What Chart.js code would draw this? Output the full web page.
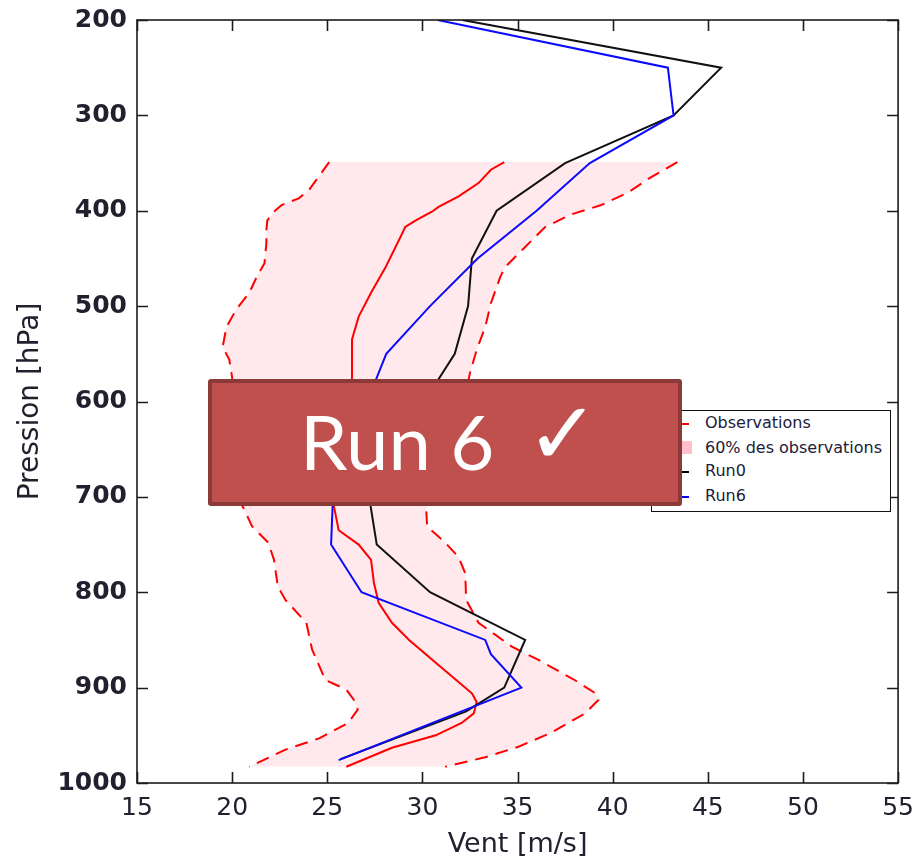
<!DOCTYPE html>
<html>
<head>
<meta charset="utf-8">
<script src="https://cdn.jsdelivr.net/npm/chart.js@4.4.0/dist/chart.umd.min.js"></script>
<style>
  html, body { margin: 0; padding: 0; background: #fff; }
  #wrap { position: relative; width: 924px; height: 866px; overflow: hidden; }
  #c { position: absolute; left: 0; top: 0; }
  #legend { position: absolute; left: 651px; top: 410px; width: 240px; height: 102px; box-sizing: border-box;
            border: 1.5px solid #111; background: #fff; font-family: "DejaVu Sans", sans-serif; font-size: 16px; color: #20203a; }
  .li { position: absolute; left: 53px; line-height: 20px; white-space: nowrap; }
  .mk { position: absolute; left: 8px; width: 29px; height: 2px; }
  #badge { position: absolute; left: 208px; top: 379px; width: 474px; height: 127px; box-sizing: border-box;
           background: #C0504D; border: 4px solid #8C3A38; border-radius: 3px; }
  #badgeText { position: absolute; left: 88px; top: 20px; font-family: Lato, "Open Sans", sans-serif; font-size: 76px;
               line-height: 76px; color: #fff; white-space: nowrap; }
  #badgeCheck { position: absolute; left: 314px; top: 7px; font-family: "DejaVu Sans", sans-serif; font-size: 88px;
                line-height: 88px; color: #fff; }
</style>
</head>
<body>
<div id="wrap">
  <canvas id="c" width="924" height="866"></canvas>
  <div id="legend">
    <div class="mk" style="top:12px;background:#ff0000;"></div>
    <div class="li" style="top:2px;">Observations</div>
    <div class="mk" style="top:30px;height:13px;width:32px;background:#ffc0cb;"></div>
    <div class="li" style="top:27px;">60% des observations</div>
    <div class="mk" style="top:60px;background:#000;"></div>
    <div class="li" style="top:50px;">Run0</div>
    <div class="mk" style="top:85px;background:#0000ff;"></div>
    <div class="li" style="top:75px;">Run6</div>
  </div>
  <div id="badge">
    <span id="badgeText">Run 6</span>
    <span id="badgeCheck">✓</span>
  </div>
</div>
<script>
// ---- Data (wind speed in m/s vs pressure in hPa) ----
const xTicks = [15, 20, 25, 30, 35, 40, 45, 50, 55];
const yTicks = [200, 300, 400, 500, 600, 700, 800, 900, 1000];

const run0Pressure = [200, 250, 300, 350, 400, 450, 500, 550, 600, 650, 700, 750, 800, 850, 900, 925, 975];
const run0Wind     = [32.1, 45.7, 43.2, 37.5, 33.9, 32.6, 32.4, 31.7, 30.1, 28.6, 27.2, 27.6, 30.4, 35.4, 34.3, 32.3, 25.7];

const run6Pressure = [200, 250, 300, 350, 400, 450, 500, 550, 600, 650, 700, 750, 800, 850, 865, 900, 976];
const run6Wind     = [30.8, 42.9, 43.2, 38.8, 36.0, 32.9, 30.4, 28.1, 27.1, 26.2, 25.3, 25.2, 26.8, 33.3, 33.6, 35.2, 25.6];

const obsPressure = [349, 357, 371, 385, 396, 401, 410, 417, 431, 459, 486, 511, 535, 549, 575, 600, 625, 650, 675, 700, 710, 735, 750, 766, 790, 811, 832, 850, 874, 894, 906, 915, 927, 937, 950, 963, 983];
const obsWind     = [34.3, 33.6, 32.95, 31.9, 30.85, 30.5, 29.65, 29.1, 28.76, 28.07, 27.3, 26.65, 26.3, 26.3, 26.3, 26.2, 26.0, 25.8, 25.6, 25.4, 25.35, 25.6, 26.65, 27.3, 27.45, 27.7, 28.4, 29.3, 30.7, 31.9, 32.6, 32.85, 32.7, 32.06, 30.7, 28.4, 26.0];

const lowPressure = [349, 360, 378, 387, 394, 401, 410, 420, 434, 455, 469, 486, 504, 522, 543, 556, 575, 600, 625, 650, 675, 700, 712, 731, 748, 766, 794, 808, 832, 860, 892, 902, 913, 923, 937, 953, 965, 983];
const lowWind     = [25.1, 24.7, 24.05, 23.5, 22.6, 22.2, 21.85, 21.8, 21.8, 21.7, 21.3, 20.9, 20.2, 19.7, 19.5, 19.85, 20.0, 20.0, 19.9, 19.9, 20.0, 20.3, 20.6, 21.05, 21.9, 22.2, 22.4, 22.8, 23.9, 24.2, 24.9, 26.0, 26.4, 26.6, 26.1, 24.6, 22.8, 20.9];

const highPressure = [349, 365, 381, 394, 404, 417, 438, 459, 469, 497, 522, 546, 570, 600, 625, 650, 675, 700, 714, 731, 748, 763, 780, 808, 832, 857, 871, 892, 906, 913, 927, 947, 962, 973, 983];
const highWind     = [43.4, 42.0, 40.8, 39.4, 37.8, 36.45, 35.4, 34.35, 34.1, 33.6, 33.3, 32.85, 32.5, 32.2, 31.8, 31.3, 30.8, 30.4, 30.2, 30.25, 31.2, 31.9, 32.25, 32.3, 32.95, 34.7, 36.1, 38.0, 39.1, 39.25, 38.55, 36.8, 35.05, 33.3, 31.2];

const seriesNames = ['Observations', '60% des observations', 'Run0', 'Run6'];

function toPoints(pres, wind) { return pres.map((p, i) => ({ x: wind[i], y: p })); }

const TEXT = '#20202e';

const frameTicks = {
  id: 'frameTicks',
  afterDatasetsDraw(chart) {
    const { ctx, chartArea: a, scales: { x, y } } = chart;
    ctx.save();
    ctx.strokeStyle = '#1c1c1c';
    ctx.lineWidth = 1.6;
    ctx.strokeRect(a.left, a.top, a.right - a.left, a.bottom - a.top);
    const L = 11;
    ctx.beginPath();
    x.ticks.forEach(t => {
      const px = Math.round(x.getPixelForValue(t.value)) + 0.5;
      ctx.moveTo(px, a.bottom); ctx.lineTo(px, a.bottom - L);
      ctx.moveTo(px, a.top); ctx.lineTo(px, a.top + L);
    });
    y.ticks.forEach(t => {
      const py = Math.round(y.getPixelForValue(t.value)) + 0.5;
      ctx.moveTo(a.left, py); ctx.lineTo(a.left + L, py);
      ctx.moveTo(a.right, py); ctx.lineTo(a.right - L, py);
    });
    ctx.stroke();
    ctx.restore();
  }
};

new Chart(document.getElementById('c'), {
  type: 'line',
  data: {
    datasets: [
      { label: 'obs low', data: toPoints(lowPressure, lowWind), borderColor: '#ff0000', borderWidth: 2,
        borderDash: [13, 8], backgroundColor: 'rgba(255,182,193,0.3)', fill: '+1', order: 5 },
      { label: 'obs high', data: toPoints(highPressure, highWind), borderColor: '#ff0000', borderWidth: 2,
        borderDash: [13, 8], fill: false, order: 4 },
      { label: seriesNames[0], data: toPoints(obsPressure, obsWind), borderColor: '#ff0000', borderWidth: 2,
        fill: false, order: 3 },
      { label: seriesNames[2], data: toPoints(run0Pressure, run0Wind), borderColor: '#111111', borderWidth: 2,
        fill: false, order: 2 },
      { label: seriesNames[3], data: toPoints(run6Pressure, run6Wind), borderColor: '#0a0aff', borderWidth: 2,
        fill: false, order: 1 }
    ]
  },
  options: {
    indexAxis: 'y',
    responsive: false,
    animation: false,
    devicePixelRatio: 1,
    layout: { padding: { top: 20, right: 25, left: 0, bottom: 0 } },
    elements: { point: { radius: 0 }, line: { tension: 0 } },
    plugins: {
      legend: { display: false },
      tooltip: { enabled: false },
      filler: { drawTime: 'beforeDatasetsDraw' }
    },
    scales: {
      x: {
        type: 'linear', min: 15, max: 55,
        afterBuildTicks: s => { s.ticks = xTicks.map(v => ({ value: v })); },
        afterFit: s => { s.height = 83; },
        grid: { display: false, drawTicks: false },
        border: { display: false },
        ticks: { color: TEXT, padding: 10, font: { family: 'DejaVu Sans', size: 25 }, callback: v => String(v) },
        title: { display: true, text: 'Vent [m/s]', color: TEXT, padding: { top: 0, bottom: 5 },
                 font: { family: 'DejaVu Sans', size: 27 } }
      },
      y: {
        type: 'linear', min: 200, max: 1000, reverse: true,
        afterBuildTicks: s => { s.ticks = yTicks.map(v => ({ value: v })); },
        afterFit: s => { s.width = 137; },
        grid: { display: false, drawTicks: false },
        border: { display: false },
        ticks: { color: TEXT, padding: 10, font: { family: 'DejaVu Sans', size: 25, weight: 'bold', lineHeight: 0.7 },
                 callback: v => String(v) },
        title: { display: true, text: 'Pression [hPa]', color: TEXT, padding: { top: 14, bottom: 0 },
                 font: { family: 'DejaVu Sans', size: 28 } }
      }
    }
  },
  plugins: [frameTicks]
});
</script>
</body>
</html>
